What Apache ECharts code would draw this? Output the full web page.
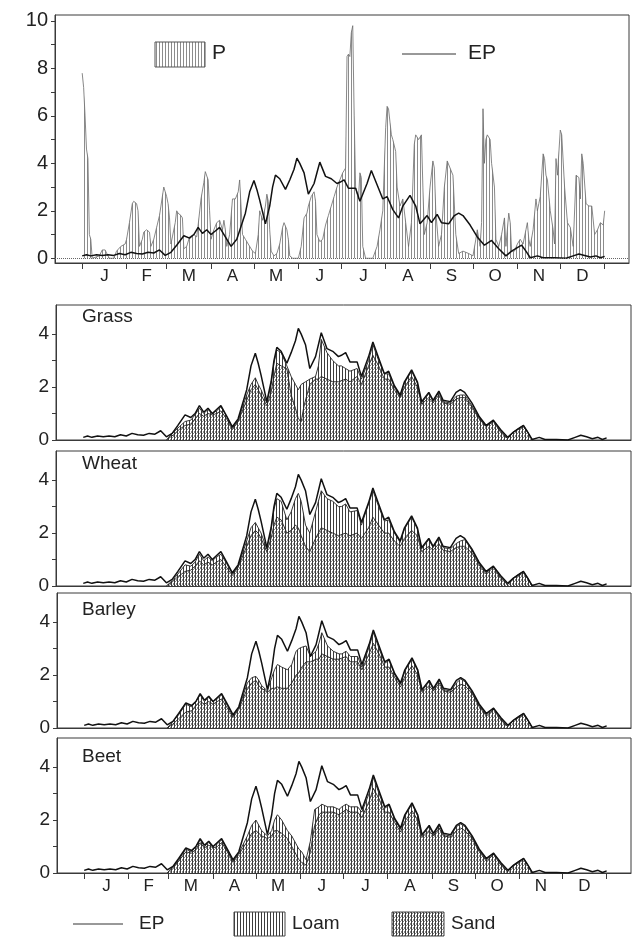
<!DOCTYPE html>
<html>
<head>
<meta charset="utf-8">
<script src="https://cdn.jsdelivr.net/npm/echarts@6/dist/echarts.min.js"></script>
<style>
html,body{margin:0;padding:0;background:#fff;}
#chart{width:634px;height:942px;}
</style>
</head>
<body>
<div id="chart"></div>
<script>
// ---------- DATA ----------
const monthLabels = ['J','F','M','A','M','J','J','A','S','O','N','D'];
const monthEdges = [0,31,59,90,120,151,181,212,243,273,304,334,365];
const yLabelsTop = [0,2,4,6,8,10];
const yTicksTop = [0,1,2,3,4,5,6,7,8,9,10];
const yLabelsCrop = [0,2,4];
const yTicksCrop = [0,1,2,3,4];
const panelNames = ['Grass','Wheat','Barley','Beet'];

// daily precipitation P (mm), [day of year, value]
const precipP = [[0,7.8],[1,7.2],[2,6.0],[3,4.6],[4,4.2],[5,1.0],[6,0.8],[7,0],[12,0.1],[14,0.35],[16,0.35],[18,0.1],[19,0],[22,0],[24,0.3],[27,0.5],[30,0.6],[31,0.8],[33,1.5],[35,2.3],[36,2.4],[38,2.3],[39,2.0],[40,0.5],[42,0.8],[43,1.1],[45,1.2],[47,1.1],[48,0.5],[50,0.8],[52,1.3],[54,1.8],[55,2.2],[57,3.0],[58,2.8],[59,2.6],[60,2.3],[61,1.7],[62,0.6],[63,0.9],[65,1.5],[66,2.0],[67,1.9],[69,1.8],[70,1.7],[71,0.4],[73,0.5],[75,0.9],[78,1.0],[80,0.9],[81,1.4],[83,2.5],[85,3.2],[86,3.65],[88,3.3],[89,2.0],[90,0.8],[92,1.2],[94,1.5],[96,1.6],[97,1.6],[98,1.2],[99,1.6],[100,1.2],[101,0.5],[103,1.0],[105,2.5],[107,2.5],[109,2.8],[110,3.3],[111,3.3],[112,1.0],[114,0.8],[116,0.6],[119,0.3],[121,0.2],[123,1.0],[124,2.0],[126,1.6],[128,2.2],[129,2.7],[130,2.4],[131,1.2],[132,0.3],[134,0.1],[136,0.2],[138,0.6],[140,1.3],[141,1.5],[143,1.2],[144,0.8],[145,0.1],[147,0],[151,0],[153,0.5],[155,1.7],[157,1.9],[158,2.2],[160,2.6],[162,2.8],[163,2.4],[164,1.0],[166,0.7],[168,0.8],[170,1.4],[172,1.8],[174,2.2],[176,2.6],[178,3.0],[180,3.3],[182,3.6],[184,3.8],[185,8.5],[186,8.6],[187,8.5],[188,9.5],[189,9.8],[190,6.0],[191,3.0],[193,2.5],[194,3.6],[195,3.4],[196,0.5],[198,0],[203,0],[206,0.5],[208,1.2],[210,2.0],[212,5.5],[213,6.4],[214,6.3],[216,5.2],[217,5.0],[219,4.5],[220,3.0],[222,2.2],[224,2.5],[226,1.5],[228,0.5],[230,1.5],[232,4.8],[233,5.2],[235,5.0],[237,5.2],[238,3.0],[239,1.0],[241,1.5],[243,3.0],[245,4.1],[246,3.8],[247,2.0],[249,0.5],[251,1.0],[253,3.0],[255,4.1],[257,3.8],[259,3.5],[261,1.0],[263,0.2],[266,0.3],[270,0.2],[273,0.1],[275,0.8],[276,1.2],[278,0.5],[279,1.5],[280,6.3],[281,4.0],[282,5.0],[283,5.2],[285,5.0],[286,4.0],[288,3.0],[289,0.8],[291,0.5],[293,1.0],[295,1.7],[296,0.5],[298,1.9],[299,1.5],[300,0.3],[302,0.3],[304,0.6],[306,0.8],[308,0.6],[310,1.2],[311,1.5],[312,0.8],[313,0.5],[315,1.2],[317,2.5],[318,2.0],[319,2.3],[320,2.6],[322,4.4],[323,4.2],[324,3.5],[325,3.3],[327,2.0],[329,1.2],[330,0.6],[331,4.2],[332,3.5],[334,5.4],[335,5.2],[337,3.0],[339,1.5],[341,1.3],[343,0.5],[345,3.5],[347,3.4],[348,2.5],[349,4.4],[350,4.0],[352,2.3],[354,2.2],[356,2.2],[358,1.0],[360,1.2],[362,1.5],[364,1.4],[365,2.0]];

// potential evaporation EP (mm)
const evapEP = [[0,0.1],[3,0.15],[6,0.1],[10,0.15],[14,0.12],[18,0.15],[22,0.12],[26,0.2],[30,0.15],[34,0.25],[38,0.2],[42,0.18],[46,0.25],[50,0.22],[54,0.35],[58,0.12],[62,0.25],[66,0.55],[71,0.95],[75,0.85],[78,1.0],[81,1.3],[84,1.05],[87,1.2],[90,1.0],[93,1.15],[96,1.3],[100,0.9],[104,0.5],[108,0.8],[114,1.9],[117,2.8],[120,3.28],[122,2.9],[124,2.45],[128,1.45],[131,2.2],[133,3.0],[135,3.5],[138,3.35],[142,2.9],[145,3.3],[148,3.75],[150,4.22],[152,4.0],[155,3.6],[158,2.7],[162,3.15],[164,3.6],[166,4.05],[170,3.45],[174,3.35],[178,3.15],[180,3.2],[183,3.3],[186,2.95],[191,2.95],[194,2.4],[199,3.15],[202,3.7],[206,3.1],[210,2.5],[213,2.6],[217,2.05],[221,1.7],[224,2.2],[229,2.65],[233,2.2],[236,1.45],[241,1.8],[244,1.5],[248,1.85],[251,1.5],[256,1.45],[260,1.8],[263,1.9],[266,1.8],[271,1.4],[276,0.9],[281,0.55],[286,0.75],[291,0.4],[296,0.1],[300,0.3],[304,0.45],[307,0.55],[310,0.3],[313,0.02],[318,0.1],[322,0.02],[330,0.02],[338,0.0],[343,0.1],[347,0.18],[351,0.12],[355,0.05],[359,0.1],[362,0.02],[365,0.08]];

// actual evapotranspiration, loam and sand soils
const grassLoam = [[58,0],[63,0.3],[67,0.5],[71,0.7],[75,0.75],[78,0.95],[81,1.2],[84,1.0],[87,1.15],[90,1.0],[93,1.1],[96,1.25],[100,0.9],[104,0.45],[108,0.75],[114,1.7],[117,2.1],[120,2.35],[122,2.1],[124,1.9],[128,1.4],[131,2.1],[133,2.9],[135,3.4],[138,3.3],[142,2.8],[145,2.4],[148,2.1],[150,1.9],[152,2.1],[155,2.2],[158,2.3],[162,2.4],[164,2.8],[166,3.8],[170,3.3],[174,3.0],[178,2.8],[180,2.8],[183,2.7],[186,2.6],[191,2.7],[194,2.3],[199,3.0],[202,3.6],[206,3.0],[210,2.5],[213,2.5],[217,2.0],[221,1.65],[224,2.15],[229,2.6],[233,2.15],[236,1.4],[241,1.75],[244,1.45],[248,1.8],[251,1.45],[256,1.4],[260,1.65],[263,1.7],[266,1.7],[271,1.3],[276,0.85],[281,0.5],[286,0.75],[291,0.35],[296,0.05],[300,0.3],[304,0.45],[307,0.55],[310,0.3],[313,0]];
const grassSand = [[58,0],[63,0.2],[67,0.4],[71,0.55],[75,0.6],[78,0.8],[81,1.0],[84,0.9],[87,1.0],[90,0.95],[93,1.0],[96,1.1],[100,0.8],[104,0.4],[108,0.7],[114,1.5],[117,1.9],[120,2.1],[122,1.9],[124,1.7],[128,1.3],[131,1.8],[133,2.4],[135,2.9],[138,2.8],[142,2.7],[145,1.7],[148,1.2],[150,0.8],[152,0.7],[154,1.3],[158,2.1],[162,2.3],[164,2.3],[166,2.4],[170,2.3],[174,2.2],[178,2.2],[183,2.3],[186,2.2],[191,2.4],[194,2.1],[199,2.8],[202,3.2],[206,2.8],[210,2.3],[213,2.3],[217,1.9],[221,1.6],[224,2.0],[229,2.4],[233,2.0],[236,1.35],[241,1.6],[244,1.4],[248,1.7],[251,1.4],[256,1.35],[260,1.55],[263,1.6],[266,1.6],[271,1.25],[276,0.8],[281,0.5],[286,0.7],[291,0.3],[296,0.05],[300,0.3],[304,0.42],[307,0.5],[310,0.28],[313,0]];
const wheatLoam = [[58,0],[62,0.2],[66,0.45],[71,0.8],[75,0.75],[78,0.9],[81,1.2],[84,0.95],[87,1.1],[90,0.95],[93,1.1],[96,1.2],[100,0.85],[104,0.45],[108,0.75],[114,1.7],[117,2.2],[120,2.4],[122,2.2],[124,2.0],[128,1.4],[131,2.1],[133,2.9],[135,3.3],[138,3.2],[142,2.5],[145,2.8],[148,3.3],[150,3.5],[152,3.2],[155,2.3],[158,2.0],[162,2.8],[164,3.2],[166,3.6],[170,3.3],[174,3.2],[178,3.0],[180,3.0],[183,3.1],[186,2.8],[191,2.85],[194,2.3],[199,3.1],[202,3.6],[206,3.0],[210,2.45],[213,2.5],[217,2.0],[221,1.65],[224,2.15],[229,2.6],[233,2.15],[236,1.4],[241,1.75],[244,1.45],[248,1.8],[251,1.45],[256,1.4],[260,1.6],[263,1.7],[266,1.75],[271,1.35],[276,0.85],[281,0.5],[286,0.75],[291,0.35],[296,0.05],[300,0.3],[304,0.45],[307,0.55],[310,0.3],[313,0]];
const wheatSand = [[58,0],[62,0.15],[66,0.35],[71,0.55],[75,0.6],[78,0.75],[81,0.95],[84,0.8],[87,0.9],[90,0.8],[93,0.9],[96,1.0],[100,0.7],[104,0.4],[108,0.7],[114,1.5],[117,1.9],[120,2.1],[122,2.0],[124,1.8],[128,1.3],[131,1.8],[133,2.3],[135,2.6],[138,2.5],[142,2.0],[145,2.1],[148,2.3],[150,2.2],[152,1.9],[155,1.5],[158,1.3],[162,1.8],[164,2.0],[166,2.2],[170,2.1],[174,2.0],[178,1.9],[183,2.0],[186,1.9],[191,2.0],[194,1.8],[199,2.2],[202,2.6],[206,2.3],[210,2.0],[213,2.0],[217,1.7],[221,1.5],[224,1.8],[229,2.1],[233,1.9],[236,1.3],[241,1.5],[244,1.35],[248,1.6],[251,1.35],[256,1.3],[260,1.45],[263,1.5],[266,1.5],[271,1.25],[276,0.8],[281,0.45],[286,0.7],[291,0.3],[296,0.05],[300,0.3],[304,0.4],[307,0.5],[310,0.28],[313,0]];
const barleyLoam = [[58,0],[62,0.25],[66,0.5],[71,0.9],[75,0.8],[78,1.0],[81,1.25],[84,1.0],[87,1.15],[90,1.0],[93,1.1],[96,1.25],[100,0.85],[104,0.45],[108,0.75],[114,1.7],[117,1.9],[120,1.95],[122,1.8],[124,1.6],[128,1.4],[131,1.9],[133,2.2],[135,2.4],[138,2.3],[142,2.2],[145,2.4],[148,2.9],[150,3.0],[152,3.05],[155,3.1],[158,2.7],[162,2.9],[164,3.2],[166,3.6],[170,3.1],[174,2.9],[178,2.8],[180,2.8],[183,2.9],[186,2.7],[191,2.7],[194,2.3],[199,3.05],[202,3.6],[206,3.0],[210,2.45],[213,2.55],[217,2.0],[221,1.65],[224,2.15],[229,2.6],[233,2.15],[236,1.4],[241,1.75],[244,1.45],[248,1.8],[251,1.45],[256,1.4],[260,1.7],[263,1.85],[266,1.75],[271,1.35],[276,0.85],[281,0.5],[286,0.75],[291,0.35],[296,0.05],[300,0.3],[304,0.45],[307,0.55],[310,0.3],[313,0]];
const barleySand = [[58,0],[62,0.15],[66,0.35],[71,0.6],[75,0.65],[78,0.85],[81,1.0],[84,0.9],[87,1.0],[90,0.9],[93,1.0],[96,1.1],[100,0.75],[104,0.4],[108,0.7],[114,1.5],[117,1.7],[120,1.8],[122,1.6],[124,1.5],[128,1.35],[131,1.5],[133,1.5],[135,1.55],[138,1.5],[142,1.5],[145,1.7],[148,2.0],[150,2.1],[152,2.3],[155,2.5],[158,2.5],[162,2.6],[164,2.6],[166,2.8],[170,2.7],[174,2.6],[178,2.6],[183,2.7],[186,2.5],[191,2.5],[194,2.2],[199,2.8],[202,3.2],[206,2.8],[210,2.3],[213,2.3],[217,1.9],[221,1.55],[224,1.95],[229,2.35],[233,2.0],[236,1.35],[241,1.6],[244,1.4],[248,1.7],[251,1.4],[256,1.35],[260,1.55],[263,1.65],[266,1.6],[271,1.3],[276,0.8],[281,0.45],[286,0.7],[291,0.3],[296,0.05],[300,0.3],[304,0.4],[307,0.5],[310,0.28],[313,0]];
const beetLoam = [[58,0],[62,0.25],[66,0.5],[71,0.9],[75,0.8],[78,1.0],[81,1.25],[84,1.0],[87,1.15],[90,1.0],[93,1.1],[96,1.25],[100,0.85],[104,0.45],[108,0.75],[114,1.4],[117,1.8],[120,2.0],[122,1.8],[124,1.6],[128,1.4],[131,1.6],[133,2.0],[135,2.2],[138,2.0],[142,1.6],[145,1.4],[148,1.1],[150,0.9],[152,0.8],[155,0.5],[158,1.2],[161,2.4],[164,2.5],[166,2.6],[170,2.5],[174,2.5],[178,2.4],[180,2.5],[183,2.6],[186,2.5],[191,2.5],[194,2.3],[199,3.0],[202,3.6],[206,3.0],[210,2.45],[213,2.55],[217,2.0],[221,1.65],[224,2.15],[229,2.6],[233,2.15],[236,1.4],[241,1.75],[244,1.45],[248,1.8],[251,1.45],[256,1.4],[260,1.75],[263,1.85],[266,1.75],[271,1.35],[276,0.85],[281,0.5],[286,0.75],[291,0.35],[296,0.05],[300,0.3],[304,0.45],[307,0.55],[310,0.3],[313,0]];
const beetSand = [[58,0],[62,0.2],[66,0.45],[71,0.8],[75,0.75],[78,0.9],[81,1.15],[84,0.95],[87,1.05],[90,0.95],[93,1.0],[96,1.15],[100,0.8],[104,0.4],[108,0.7],[114,1.2],[117,1.5],[120,1.6],[122,1.5],[124,1.4],[128,1.3],[131,1.4],[133,1.6],[135,1.6],[138,1.5],[142,1.3],[145,1.0],[148,0.7],[150,0.5],[152,0.4],[155,0.3],[158,0.8],[161,1.8],[164,2.2],[166,2.3],[170,2.3],[174,2.3],[178,2.2],[183,2.4],[186,2.3],[191,2.3],[194,2.1],[199,2.7],[202,3.2],[206,2.8],[210,2.3],[213,2.3],[217,1.9],[221,1.55],[224,1.95],[229,2.35],[233,2.0],[236,1.35],[241,1.6],[244,1.4],[248,1.7],[251,1.4],[256,1.35],[260,1.6],[263,1.7],[266,1.6],[271,1.3],[276,0.8],[281,0.45],[286,0.7],[291,0.3],[296,0.05],[300,0.3],[304,0.4],[307,0.5],[310,0.28],[313,0]];

const cropLoam = [grassLoam, wheatLoam, barleyLoam, beetLoam];
const cropSand = [grassSand, wheatSand, barleySand, beetSand];

// ---------- STYLE ----------
const FONT = '"Liberation Sans", Arial, Helvetica, sans-serif';
const INK = '#222';
const monthMids = monthLabels.map((m, i) => (monthEdges[i] + monthEdges[i + 1]) / 2);

function makePattern(w, h, draw) {
  const c = document.createElement('canvas');
  c.width = w; c.height = h;
  const ctx = c.getContext('2d');
  ctx.fillStyle = '#ffffff';
  ctx.fillRect(0, 0, w, h);
  draw(ctx);
  return { image: c, repeat: 'repeat' };
}
const loamPattern = makePattern(3, 1, ctx => { ctx.fillStyle = '#3c3c3c'; ctx.fillRect(0, 0, 1, 1); });
const sandPattern = makePattern(3, 4, ctx => {
  ctx.fillStyle = '#3c3c3c'; ctx.fillRect(0, 0, 1, 4);
  ctx.fillStyle = '#8a8a8a'; ctx.fillRect(1, 1, 1, 1); ctx.fillRect(2, 3, 1, 1); ctx.fillRect(2, 0, 1, 1);
});
const pPattern = makePattern(3, 1, ctx => { ctx.fillStyle = '#8c8c8c'; ctx.fillRect(0, 0, 1, 1); });

const grids = [
  { left: 55, right: 5, top: 15, height: 248 },
  { left: 56, right: 3, top: 305, height: 135 },
  { left: 56, right: 3, top: 451, height: 135 },
  { left: 57, right: 3, top: 593, height: 135 },
  { left: 57, right: 3, top: 738, height: 135 }
].map(g => Object.assign({ show: true, borderColor: '#3a3a3a', borderWidth: 1, backgroundColor: 'transparent' }, g));

function xAxisFor(i, showLabels) {
  return {
    gridIndex: i, type: 'value', min: -19, max: 382,
    splitLine: { show: false },
    axisLine: { show: true, onZero: false, lineStyle: { color: '#3a3a3a', width: 1 } },
    axisTick: { show: showLabels, inside: false, length: 6, customValues: monthEdges, lineStyle: { color: '#3a3a3a' } },
    axisLabel: {
      show: showLabels, customValues: monthMids, margin: 5,
      fontFamily: FONT, fontSize: 17, color: INK,
      formatter: v => monthLabels[monthMids.indexOf(v)] || ''
    }
  };
}
function yAxisFor(i, min, max, labels, ticks, fs) {
  return {
    gridIndex: i, type: 'value', min: min, max: max, position: 'left',
    splitLine: { show: false },
    axisLine: { show: true, onZero: false, lineStyle: { color: '#3a3a3a', width: 1 } },
    axisTick: { show: true, length: 4, customValues: ticks, lineStyle: { color: '#3a3a3a' } },
    axisLabel: { customValues: labels, fontFamily: FONT, fontSize: fs, color: INK, margin: 7 }
  };
}

const xAxes = [xAxisFor(0, true), xAxisFor(1, false), xAxisFor(2, false), xAxisFor(3, false), xAxisFor(4, true)];
const yAxes = [yAxisFor(0, -0.2, 10.25, yLabelsTop, yTicksTop, 20)];
for (let i = 1; i <= 4; i++) yAxes.push(yAxisFor(i, 0, 5.1, yLabelsCrop, yTicksCrop, 19));

const series = [
  {
    name: 'P', type: 'line', xAxisIndex: 0, yAxisIndex: 0, data: precipP,
    showSymbol: false, z: 2, lineStyle: { color: '#6a6a6a', width: 0.8 },
    areaStyle: { color: pPattern, opacity: 1 },
    markLine: { silent: true, symbol: 'none', label: { show: false },
      lineStyle: { type: 'dotted', color: '#666', width: 1 }, data: [{ yAxis: 0 }] }
  },
  {
    name: 'EP', type: 'line', xAxisIndex: 0, yAxisIndex: 0, data: evapEP,
    showSymbol: false, z: 4, lineStyle: { color: '#111', width: 1.5 }
  }
];
for (let k = 0; k < 4; k++) {
  const gi = k + 1;
  series.push({
    name: 'Loam', type: 'line', xAxisIndex: gi, yAxisIndex: gi, data: cropLoam[k],
    showSymbol: false, z: 2, lineStyle: { color: '#222', width: 0.9 },
    areaStyle: { color: loamPattern, opacity: 1 }
  });
  series.push({
    name: 'Sand', type: 'line', xAxisIndex: gi, yAxisIndex: gi, data: cropSand[k],
    showSymbol: false, z: 3, lineStyle: { color: '#222', width: 0.9 },
    areaStyle: { color: sandPattern, opacity: 1 }
  });
  series.push({
    name: 'EP', type: 'line', xAxisIndex: gi, yAxisIndex: gi, data: evapEP,
    showSymbol: false, z: 4, lineStyle: { color: '#111', width: 1.5 }
  });
}

const panelNameY = [318, 465, 611, 758];
const graphics = [];
panelNames.forEach((n, i) => {
  graphics.push({ type: 'text', left: 82, top: panelNameY[i] - 11,
    style: { text: n, fontFamily: FONT, fontSize: 19, fill: INK } });
});
// top legend
graphics.push({ type: 'rect', shape: { x: 155, y: 42, width: 50, height: 25 },
  style: { fill: pPattern, stroke: '#555', lineWidth: 1 } });
graphics.push({ type: 'text', left: 212, top: 43, style: { text: 'P', fontFamily: FONT, fontSize: 21, fill: INK } });
graphics.push({ type: 'line', shape: { x1: 402, y1: 54, x2: 456, y2: 54 }, style: { stroke: '#333', lineWidth: 1 } });
graphics.push({ type: 'text', left: 468, top: 43, style: { text: 'EP', fontFamily: FONT, fontSize: 21, fill: INK } });
// bottom legend
graphics.push({ type: 'line', shape: { x1: 73, y1: 924, x2: 123, y2: 924 }, style: { stroke: '#333', lineWidth: 1 } });
graphics.push({ type: 'text', left: 139, top: 914, style: { text: 'EP', fontFamily: FONT, fontSize: 19, fill: INK } });
graphics.push({ type: 'rect', shape: { x: 234, y: 912, width: 51, height: 24 },
  style: { fill: loamPattern, stroke: '#444', lineWidth: 1 } });
graphics.push({ type: 'text', left: 292, top: 914, style: { text: 'Loam', fontFamily: FONT, fontSize: 19, fill: INK } });
graphics.push({ type: 'rect', shape: { x: 392, y: 912, width: 52, height: 24 },
  style: { fill: sandPattern, stroke: '#444', lineWidth: 1 } });
graphics.push({ type: 'text', left: 451, top: 914, style: { text: 'Sand', fontFamily: FONT, fontSize: 19, fill: INK } });

const chart = echarts.init(document.getElementById('chart'), null, { renderer: 'canvas' });
chart.setOption({
  backgroundColor: '#ffffff',
  animation: false,
  grid: grids,
  xAxis: xAxes,
  yAxis: yAxes,
  series: series,
  graphic: graphics
});
</script>
</body>
</html>
